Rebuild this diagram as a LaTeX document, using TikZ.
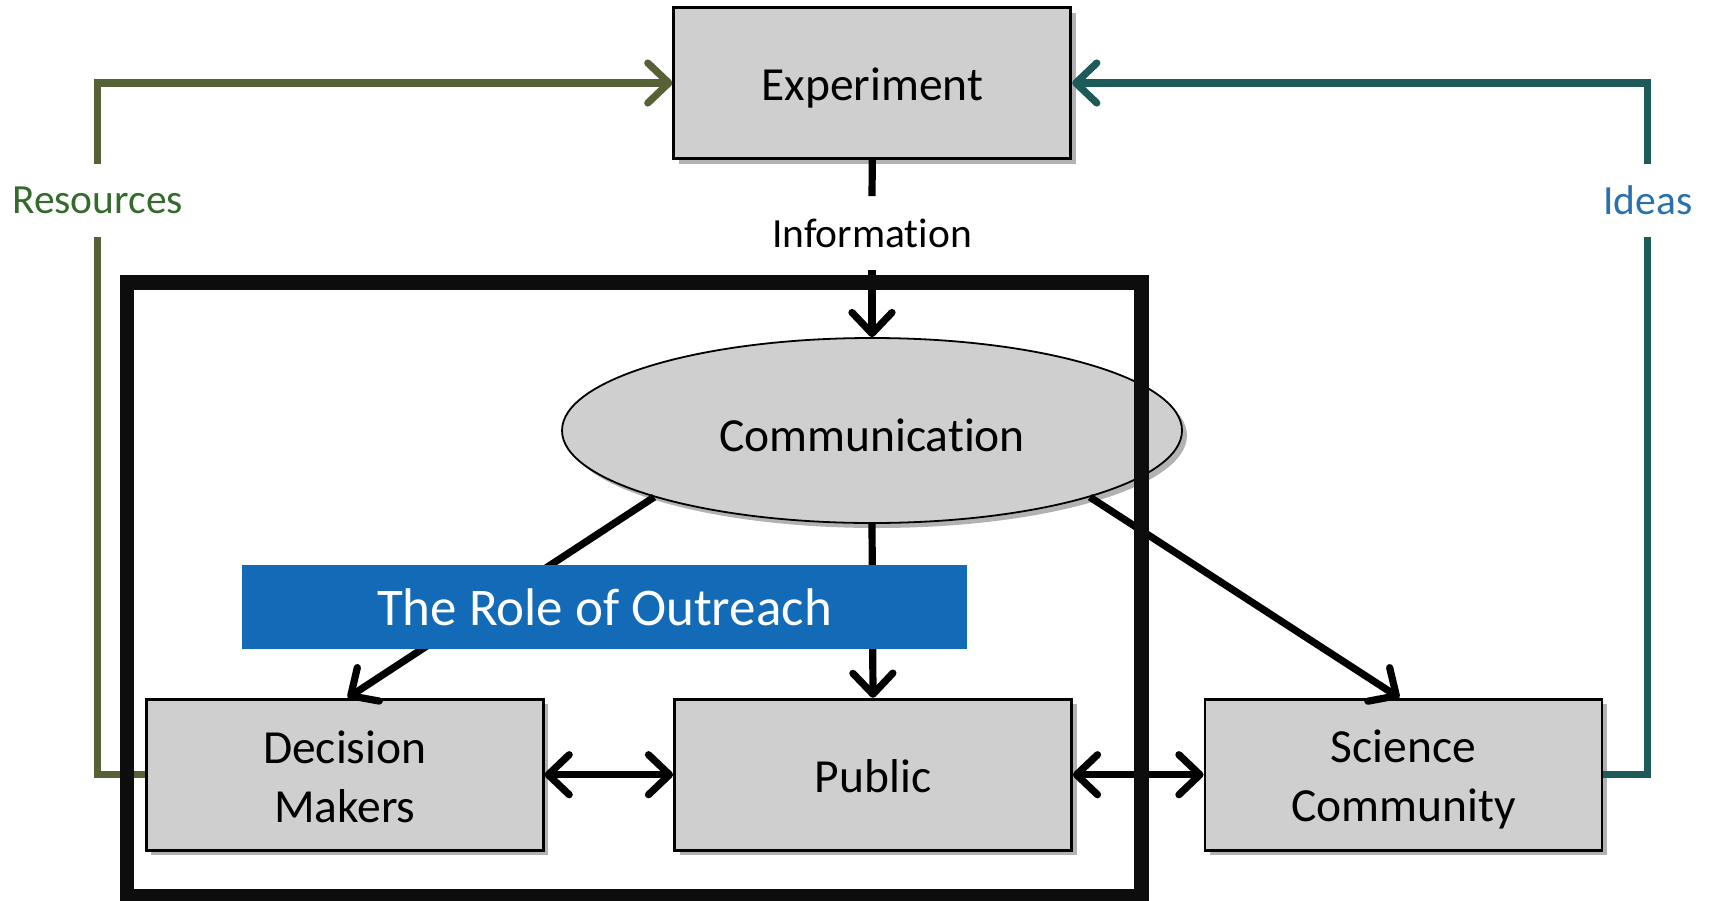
\documentclass[tikz,border=0pt]{standalone}
\usepackage{fontspec}
\setmainfont{Carlito}[Ligatures=NoCommon]
\usetikzlibrary{arrows.meta,shapes.geometric,shadows,calc}
\definecolor{boxgray}{HTML}{CFCFCF}
\definecolor{olive}{HTML}{576136}
\definecolor{restext}{HTML}{346B2C}
\definecolor{tealline}{HTML}{1E5B58}
\definecolor{ideastext}{HTML}{2A70AE}
\definecolor{banner}{HTML}{136BB8}
\tikzset{
  barbtip/.tip={Straight Barb[length=10.5pt, width=20pt, line cap=round, line join=round]},
  boxnode/.style={draw=black, line width=1.4pt, fill=boxgray, minimum width=198.5pt, minimum height=75.5pt,
    inner sep=0pt,
    drop shadow={shadow xshift=2.5pt, shadow yshift=-2.5pt, opacity=0.3, fill=black}},
  boxtext/.style={align=center, font=\fontsize{23.75pt}{29.5pt}\selectfont, inner sep=0pt, yshift=-2.5pt},
  ellnode/.style={ellipse, draw=black, line width=0.9pt, fill=boxgray, minimum width=310pt, minimum height=92.5pt,
    inner sep=0pt,
    drop shadow={shadow xshift=2.5pt, shadow yshift=-2.5pt, opacity=0.3, fill=black}},
  labelnode/.style={font=\fontsize{20.75pt}{25pt}\selectfont, inner sep=0pt, minimum height=36.5pt},
  flow/.style={line width=3.6pt, -barbtip},
  biflow/.style={line width=3.6pt, barbtip-barbtip},
  plainflow/.style={line width=3.6pt},
  sideline/.style={line width=3.6pt},
}
\begin{document}
\begin{tikzpicture}[x=0.5pt, y=-0.5pt]
\useasboundingbox (0,0) rectangle (1711,900);
% nodes
\node[boxnode, label={[boxtext]center:Experiment}] (exp) at (872.3,83) {};
\node[ellnode, label={[boxtext]center:Communication}] (comm) at (872,430.5) {};
\node[boxnode, label={[boxtext, yshift=1.5pt]center:Decision\\Makers}] (dm) at (344.7,774.7) {};
\node[boxnode, label={[boxtext, yshift=1.6pt]center:Public}] (pub) at (873,774.7) {};
\node[boxnode, label={[boxtext]center:Science\\Community}] (sci) at (1403.4,774.7) {};
\node[labelnode] (info) at (872,233) {Information};
\node[labelnode, text=restext] (res) at (97.6,200.5) {Resources};
\node[labelnode, text=ideastext] (ideas) at (1647.7,200.5) {Ideas};
% connectors
\draw[plainflow] (exp.south) -- (info.north);
\draw[flow] (info.south) -- (comm.north);
\draw[flow] (comm.197) -- ($(dm.north)+(3,0)$);
\draw[flow] (comm.south) -- (pub.north);
\draw[flow] (comm.343) -- ($(sci.north)+(-4,0)$);
\draw[biflow] (dm.east) -- (pub.west);
\draw[biflow] (pub.east) -- (sci.west);
\draw[olive, sideline] (dm.west) -| (res.south);
\draw[olive, flow] (res.north) |- (exp.west);
\draw[tealline, sideline] (sci.east) -| (ideas.south);
\draw[tealline, flow] (ideas.north) |- (exp.east);
% banner
\node[fill=banner, text=white, minimum width=362.5pt, minimum height=42pt, inner sep=0pt,
  font=\fontsize{26.5pt}{32pt}\selectfont] (ban) at (604.5,607) {The Role of Outreach};
% frame
\draw[line width=7.4pt, black!95] (127,282.5) rectangle (1141.7,896.5);
\end{tikzpicture}
\end{document}
